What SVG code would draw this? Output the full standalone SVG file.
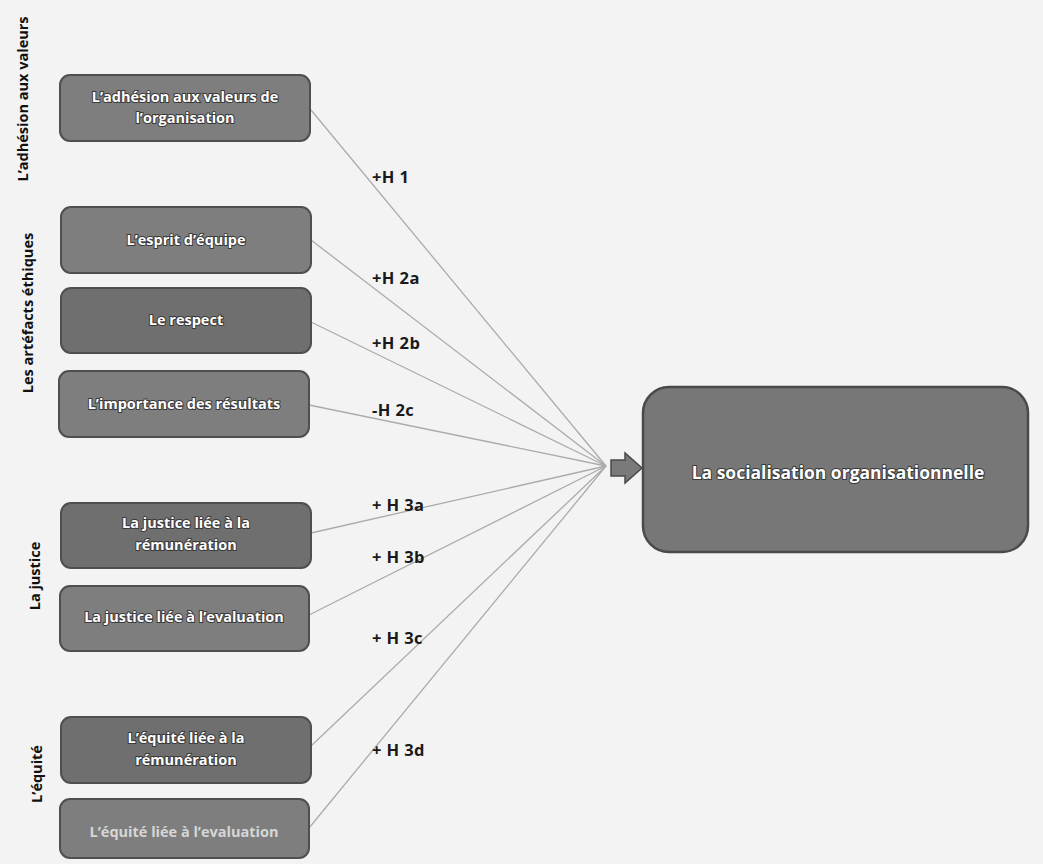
<svg xmlns="http://www.w3.org/2000/svg" width="1043" height="864" viewBox="0 0 1043 864">
<style>
.bg{fill:#f3f3f3}
.box rect{fill:#7e7e7e;stroke:#4f4f4f;stroke-width:2}
.box.dark rect{fill:#6f6f6f}
.bt{font-family:"Open Sans","Liberation Sans",sans-serif;font-weight:bold;font-size:14.5px;fill:#ffffff;stroke:#3a3a3a;stroke-width:2;paint-order:stroke;text-anchor:middle}
.bt.light{fill:#d6d6d6;stroke:none}
.side{font-family:"Open Sans","Liberation Sans",sans-serif;font-weight:bold;font-size:14.5px;fill:#111;text-anchor:middle}
.lab{font-family:"Open Sans","Liberation Sans",sans-serif;font-weight:bold;font-size:16.5px;letter-spacing:0.4px;fill:#1a1a1a}
.conn line{stroke:#ababab;stroke-width:1.3}
.main rect{fill:#777;stroke:#4a4a4a;stroke-width:2.5}
.mt{font-family:"Open Sans","Liberation Sans",sans-serif;font-weight:bold;font-size:17.5px;fill:#fff;stroke:#3a3a3a;stroke-width:2;paint-order:stroke;text-anchor:middle}
</style>
<rect class="bg" x="0" y="0" width="1043" height="864"/>

<g id="side-labels">
<text class="side" transform="translate(28,99) rotate(-90)">L’adhésion aux valeurs</text>
<text class="side" transform="translate(33,313) rotate(-90)">Les artéfacts éthiques</text>
<text class="side" transform="translate(40,576) rotate(-90)">La justice</text>
<text class="side" transform="translate(42,774) rotate(-90)">L’équité</text>
</g>

<g id="connectors" class="conn">
<line x1="311" y1="110" x2="606" y2="466"/>
<line x1="311" y1="240" x2="606" y2="466"/>
<line x1="311" y1="322" x2="606" y2="466"/>
<line x1="309" y1="405" x2="606" y2="466"/>
<line x1="311" y1="533" x2="606" y2="466"/>
<line x1="309" y1="615" x2="606" y2="466"/>
<line x1="311" y1="746" x2="606" y2="466"/>
<line x1="309" y1="828" x2="606" y2="466"/>
</g>

<g id="labels">
<text class="lab" x="372" y="183">+H 1</text>
<text class="lab" x="372" y="284">+H 2a</text>
<text class="lab" x="372" y="349">+H 2b</text>
<text class="lab" x="372" y="416">-H 2c</text>
<text class="lab" x="372" y="511">+ H 3a</text>
<text class="lab" x="372" y="563">+ H 3b</text>
<text class="lab" x="372" y="644">+ H 3c</text>
<text class="lab" x="372" y="756">+ H 3d</text>
</g>

<g id="n1" class="box"><rect x="60" y="75" width="250" height="66" rx="10"/><text class="bt" x="185" y="102">L’adhésion aux valeurs de</text><text class="bt" x="185" y="123">l’organisation</text></g>
<g id="n2" class="box"><rect x="61" y="207" width="250" height="66" rx="10"/><text class="bt" x="186" y="245">L’esprit d’équipe</text></g>
<g id="n3" class="box dark"><rect x="61" y="288" width="250" height="65" rx="10"/><text class="bt" x="186" y="325">Le respect</text></g>
<g id="n4" class="box"><rect x="59" y="371" width="250" height="66" rx="10"/><text class="bt" x="184" y="409">L’importance des résultats</text></g>
<g id="n5" class="box dark"><rect x="61" y="503" width="250" height="65" rx="10"/><text class="bt" x="186" y="528">La justice liée à la</text><text class="bt" x="186" y="550">rémunération</text></g>
<g id="n6" class="box"><rect x="60" y="586" width="249" height="65" rx="10"/><text class="bt" x="184" y="622">La justice liée à l’evaluation</text></g>
<g id="n7" class="box dark"><rect x="61" y="717" width="250" height="66" rx="10"/><text class="bt" x="186" y="743">L’équité liée à la</text><text class="bt" x="186" y="765">rémunération</text></g>
<g id="n8" class="box"><rect x="60" y="799" width="249" height="59" rx="10"/><text class="bt light" x="184" y="837">L’équité liée à l’evaluation</text></g>

<g id="arrow">
<path d="M611,460 L625,460 L625,453 L642,468 L625,483 L625,476 L611,476 Z" fill="#7a7a7a" stroke="#4a4a4a" stroke-width="1.5"/>
</g>

<g id="main" class="main"><rect x="643" y="387" width="385" height="165" rx="26"/><text class="mt" x="838" y="479">La socialisation organisationnelle</text></g>
</svg>
